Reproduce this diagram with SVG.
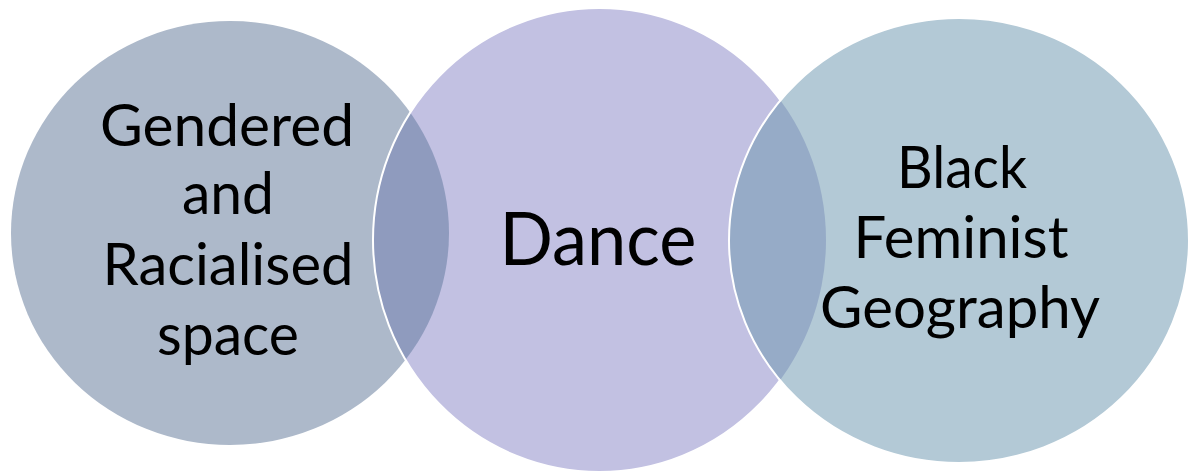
<svg xmlns="http://www.w3.org/2000/svg" width="1190" height="473" viewBox="0 0 1190 473">
  <style>
    .lbl { font-family: "Lato", "Liberation Sans", sans-serif; font-size: 58px; fill: #000000; text-anchor: middle; }
    .big { font-size: 74px; }
    .edge { fill: none; stroke: #ffffff; stroke-width: 2; }
  </style>
  <defs>
    <clipPath id="clipMid"><ellipse cx="599.5" cy="240" rx="226.5" ry="232"/></clipPath>
    <clipPath id="clipRight"><ellipse cx="959" cy="240.5" rx="230" ry="222.5"/></clipPath>
  </defs>
  <rect width="1190" height="473" fill="#ffffff"/>
  <g id="node-gendered">
    <ellipse cx="230" cy="233" rx="219" ry="212" fill="#ADB9CA"/>
  </g>
  <g id="node-dance">
    <ellipse cx="599.5" cy="240" rx="226.5" ry="232" fill="#C2C1E2"/>
    <ellipse id="overlap-left" cx="230" cy="233" rx="219" ry="212" fill="#8F9BBE" clip-path="url(#clipMid)"/>
    <ellipse class="edge" cx="599.5" cy="240" rx="226.5" ry="232"/>
  </g>
  <g id="node-bfg">
    <ellipse cx="959" cy="240.5" rx="230" ry="222.5" fill="#B3C9D6"/>
    <ellipse id="overlap-right" cx="599.5" cy="240" rx="226.5" ry="232" fill="#96ABC7" clip-path="url(#clipRight)"/>
    <ellipse class="edge" cx="959" cy="240.5" rx="230" ry="222.5"/>
  </g>
  <g id="connectors"/>
  <g id="labels">
    <text class="lbl" x="227" y="146" textLength="254" lengthAdjust="spacingAndGlyphs">Gendered</text>
    <text class="lbl" x="228" y="214" textLength="92" lengthAdjust="spacingAndGlyphs">and</text>
    <text class="lbl" x="228" y="285" textLength="251" lengthAdjust="spacingAndGlyphs">Racialised</text>
    <text class="lbl" x="228" y="355" textLength="142" lengthAdjust="spacingAndGlyphs">space</text>
    <text class="lbl big" x="598" y="265" textLength="197" lengthAdjust="spacingAndGlyphs">Dance</text>
    <text class="lbl" x="962" y="188" textLength="130" lengthAdjust="spacingAndGlyphs">Black</text>
    <text class="lbl" x="961" y="258" textLength="215" lengthAdjust="spacingAndGlyphs">Feminist</text>
    <text class="lbl" x="960" y="328" textLength="280" lengthAdjust="spacingAndGlyphs">Geography</text>
  </g>
</svg>
